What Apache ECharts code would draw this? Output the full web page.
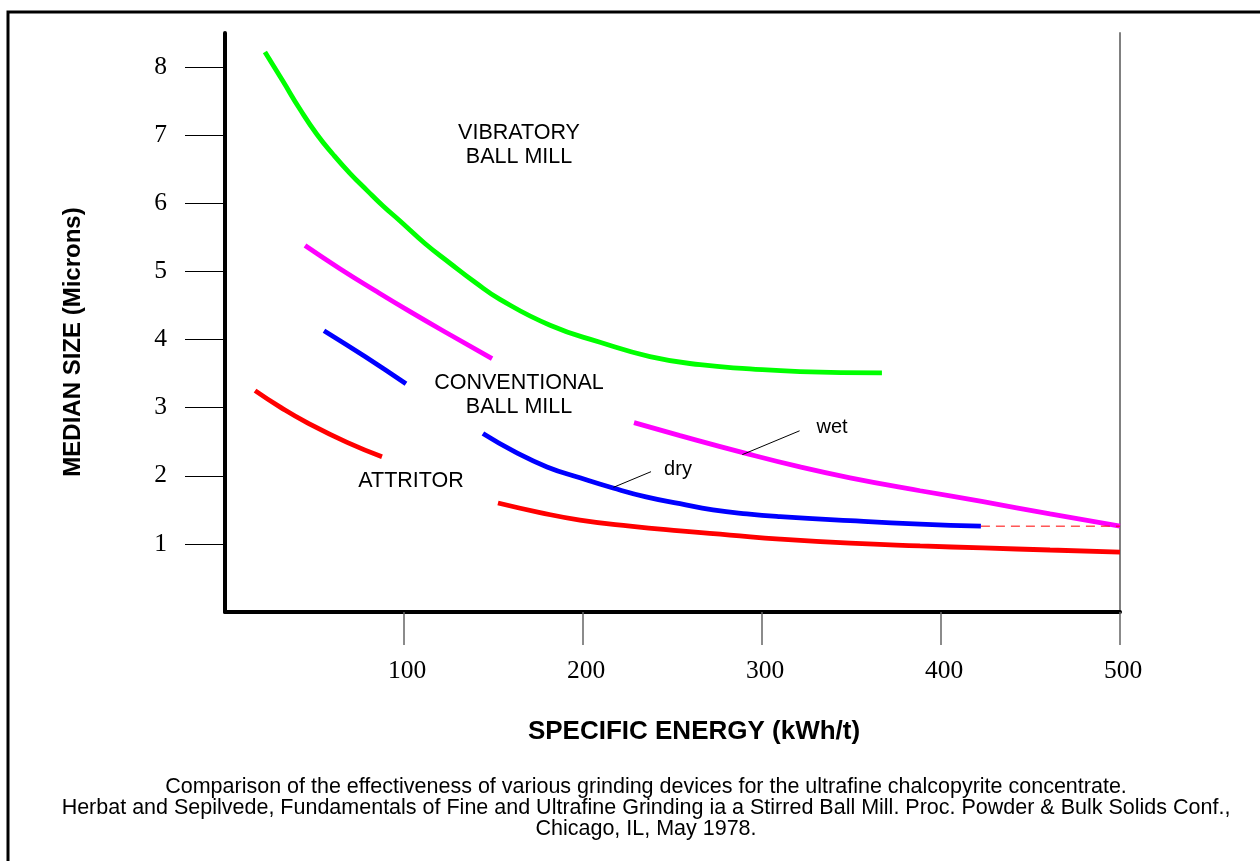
<!DOCTYPE html>
<html>
<head>
<meta charset="utf-8">
<title>Grinding devices</title>
<script src="https://cdn.jsdelivr.net/npm/echarts@6/dist/echarts.min.js"></script>
<style>
  html, body { margin: 0; padding: 0; background: #fff; }
  #chart { width: 1260px; height: 861px; }
</style>
</head>
<body>
<div id="chart"></div>
<script>
// 刻度
const xTicks = [100, 200, 300, 400, 500]
const yTicks = [1, 2, 3, 4, 5, 6, 7, 8]

// 曲线数据 [kWh/t, microns]，中间断开处放文字
const vibratory = [
  [22.3, 8.22], [32.4, 7.79], [41.9, 7.38], [51.4, 7.01], [60.3, 6.72], [69.8, 6.44],
  [79.3, 6.19], [88.3, 5.96], [97.8, 5.74], [111.7, 5.41], [125.7, 5.12], [139.7, 4.84],
  [153.6, 4.59], [181.6, 4.21], [209.5, 3.96], [237.4, 3.75], [265.4, 3.63], [293.3, 3.57],
  [321.2, 3.53], [367, 3.51]
]
const wetA = [[44.7, 5.38], [64.2, 5.04], [83.8, 4.72], [103.4, 4.41], [125.7, 4.07], [149.2, 3.72]]
const wetB = [
  [228.5, 2.78], [254.2, 2.59], [289.4, 2.34], [321.2, 2.13], [349.2, 1.97],
  [388.3, 1.78], [423.5, 1.62], [460.9, 1.44], [500, 1.26]
]
const dryA = [[55.3, 4.13], [78.2, 3.75], [101.1, 3.35]]
const dryB = [
  [144.1, 2.62], [162.0, 2.35], [179.9, 2.13], [198.3, 1.97], [216.8, 1.82], [235.2, 1.69],
  [254.2, 1.59], [272.6, 1.50], [291.6, 1.44], [310.1, 1.40], [349.2, 1.34], [388.3, 1.29],
  [422.3, 1.26]
]
const dryExt = [[422.3, 1.26], [500, 1.26]]
const attritorA = [[16.8, 3.25], [31.3, 3.00], [45.8, 2.78], [68.2, 2.49], [87.7, 2.28]]
const attritorB = [
  [152.5, 1.60], [176.0, 1.46], [198.3, 1.35], [226.3, 1.26], [254.2, 1.19], [282.1, 1.13],
  [310.1, 1.07], [349.2, 1.01], [388.3, 0.97], [423.5, 0.94], [460.9, 0.91], [500, 0.88]
]

const caption = [
  'Comparison of the effectiveness of various grinding devices for the ultrafine chalcopyrite concentrate.',
  'Herbat and Sepilvede, Fundamentals of Fine and Ultrafine Grinding ia a Stirred Ball Mill. Proc. Powder & Bulk Solids Conf.,',
  'Chicago, IL, May 1978.'
]

const sans = '"Liberation Sans", Arial, sans-serif'
const serif = '"Liberation Serif", "Times New Roman", serif'

function curve (data, color) {
  return {
    type: 'line',
    data: data,
    smooth: true,
    showSymbol: false,
    silent: true,
    lineStyle: { color: color, width: 4.8, cap: 'butt' }
  }
}

function note (text, x, y, size) {
  return {
    type: 'text',
    x: x,
    y: y,
    style: {
      text: text,
      font: (size || 21.5) + 'px ' + sans,
      fill: '#000',
      align: 'center',
      verticalAlign: 'middle',
      lineHeight: 24
    }
  }
}

let chart = echarts.init(document.getElementById('chart'))
let option = {
  animation: false,
  grid: { left: 225, right: 140, top: 33, bottom: 249 },
  xAxis: {
    type: 'value',
    min: 0,
    max: 500,
    interval: 100,
    splitLine: { show: false },
    axisLine: { lineStyle: { color: '#000', width: 4 } },
    axisTick: {
      show: true,
      customValues: xTicks,
      length: 33,
      lineStyle: { color: '#666', width: 1.5 }
    },
    axisLabel: {
      customValues: xTicks,
      margin: 46,
      color: '#000',
      fontFamily: serif,
      fontSize: 25.5,
      padding: [0, 0, 0, 6]
    }
  },
  yAxis: [
    {
      type: 'value',
      min: 0,
      max: 8.5,
      interval: 1,
      splitLine: { show: false },
      axisLine: { show: true, lineStyle: { color: '#000', width: 4 } },
      axisTick: {
        show: true,
        customValues: yTicks,
        length: 40,
        lineStyle: { color: '#000', width: 1 }
      },
      axisLabel: {
        customValues: yTicks,
        margin: 58,
        color: '#000',
        fontFamily: serif,
        fontSize: 25.5,
        padding: [0, 0, 6, 0]
      }
    },
    {
      // 右侧灰色竖线
      type: 'value',
      position: 'right',
      min: 0,
      max: 8.5,
      splitLine: { show: false },
      axisLine: { show: true, lineStyle: { color: '#808080', width: 2 } },
      axisTick: { show: false },
      axisLabel: { show: false }
    }
  ],
  series: [
    curve(vibratory, '#00ff00'),
    curve(wetA, '#ff00ff'),
    curve(wetB, '#ff00ff'),
    curve(dryA, '#0000ff'),
    curve(dryB, '#0000ff'),
    curve(attritorA, '#ff0000'),
    curve(attritorB, '#ff0000'),
    {
      type: 'line',
      data: dryExt,
      showSymbol: false,
      silent: true,
      lineStyle: { color: '#ff0000', width: 1, type: [9, 6] },
      // wet / dry 引线
      markLine: {
        silent: true,
        symbol: 'none',
        label: { show: false },
        lineStyle: { color: '#000', width: 1, type: 'solid' },
        data: [
          [{ coord: [321, 2.66] }, { coord: [289, 2.31] }],
          [{ coord: [238, 2.06] }, { coord: [217, 1.83] }]
        ]
      }
    }
  ],
  graphic: [
    {
      type: 'polyline',
      shape: { points: [[8, 861], [8, 12], [1260, 12]] },
      style: { stroke: '#000', lineWidth: 3, fill: null }
    },
    note('VIBRATORY\nBALL MILL', 519, 145),
    note('CONVENTIONAL\nBALL MILL', 519, 395),
    note('ATTRITOR', 411, 481),
    note('wet', 832, 427, 20),
    note('dry', 678, 469, 20),
    {
      type: 'text',
      x: 73,
      y: 342,
      rotation: Math.PI / 2,
      style: {
        text: 'MEDIAN SIZE (Microns)',
        font: 'bold 24px ' + sans,
        fill: '#000',
        align: 'center',
        verticalAlign: 'middle'
      }
    },
    {
      type: 'text',
      x: 694,
      y: 732,
      style: {
        text: 'SPECIFIC ENERGY (kWh/t)',
        font: 'bold 26px ' + sans,
        fill: '#000',
        align: 'center',
        verticalAlign: 'middle'
      }
    },
    {
      type: 'text',
      x: 646,
      y: 808,
      style: {
        text: caption.join('\n'),
        font: '21.5px ' + sans,
        fill: '#000',
        align: 'center',
        verticalAlign: 'middle',
        lineHeight: 21
      }
    }
  ]
}
chart.setOption(option)
window.addEventListener('resize', function () {
  chart.resize()
})
</script>
</body>
</html>
